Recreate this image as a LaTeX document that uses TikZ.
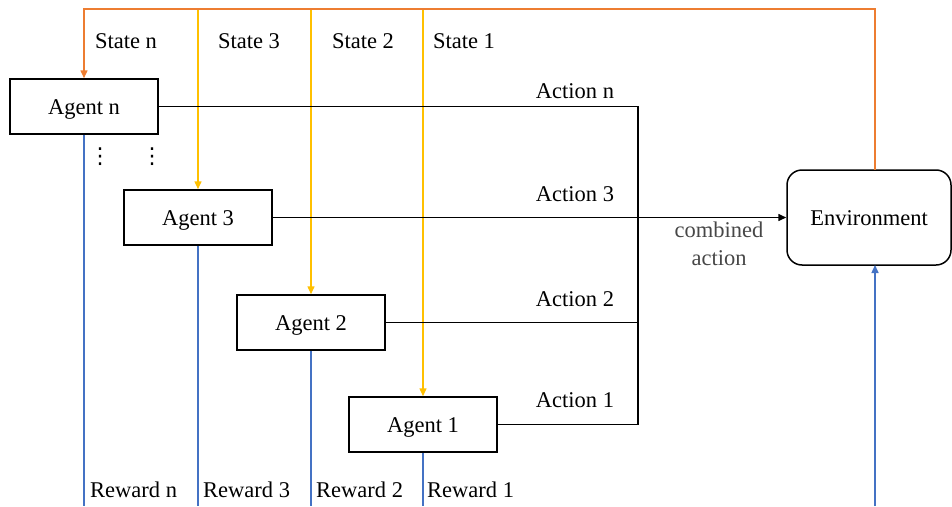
\documentclass[tikz,border=0pt]{standalone}
\usepackage{fontspec}
\setmainfont{Liberation Serif}
\newfontfamily\djv{DejaVu Sans}
\usetikzlibrary{arrows.meta}
\definecolor{cOrange}{HTML}{ED7D31}
\definecolor{cYellow}{HTML}{FFC000}
\definecolor{cBlue}{HTML}{4472C4}
\begin{document}
\begin{tikzpicture}[x=1pt,y=-1pt,
  every node/.style={font=\fontsize{22.5}{26}\selectfont, inner sep=0pt},
  agentbox/.style={draw, line width=1.5pt, minimum width=148pt, minimum height=55pt, text height=17pt, text depth=1pt},
  envbox/.style={draw, line width=1.5pt, rounded corners=15pt, minimum width=164pt, minimum height=95pt, text height=17pt, text depth=1pt},
  actline/.style={line width=1.5pt},
  stateline/.style={cYellow, line width=1.5pt},
  orangeline/.style={cOrange, line width=1.5pt},
  rewline/.style={cBlue, line width=1.5pt},
  tip/.style={-{Triangle[length=8pt,width=7pt]}},
  lbl/.style={anchor=base},
  dotsnode/.style={font=\djv\fontsize{22}{24}\selectfont}
]
\useasboundingbox (0,0) rectangle (952,506);
% nodes
\node[agentbox] (an) at (84,106.5) {Agent n};
\node[agentbox] (a3) at (198,217.5) {Agent 3};
\node[agentbox] (a2) at (311,322.5) {Agent 2};
\node[agentbox] (a1) at (423,424.5) {Agent 1};
\node[envbox] (env) at (869,217.5) {Environment};
% coordinates
\coordinate (top) at (875,9);
\coordinate (eo) at (875,170);
\coordinate (eb) at (875,265);
\coordinate (ebot) at (875,506);
\coordinate (s3) at (198,9);
\coordinate (s2) at (311,9);
\coordinate (s1) at (423,9);
\coordinate (rn) at (84,506);
\coordinate (r3) at (198,506);
\coordinate (r2) at (311,506);
\coordinate (r1) at (423,506);
\coordinate (jn) at (638,106.5);
\coordinate (j1) at (638,424.5);
% state lines
\draw[stateline,tip] (s3) -- (a3.north);
\draw[stateline,tip] (s2) -- (a2.north);
\draw[stateline,tip] (s1) -- (a1.north);
\draw[orangeline,tip] (eo) -- (top) -| (an.north);
% reward lines
\draw[rewline] (an.south) -- (rn);
\draw[rewline] (a3.south) -- (r3);
\draw[rewline] (a2.south) -- (r2);
\draw[rewline] (a1.south) -- (r1);
\draw[rewline,tip] (ebot) -- (eb);
% action lines
\draw[actline] (an.east) -- (jn) -- (j1) -- (a1.east);
\draw[actline] (a2.east) -- (a2.east -| jn);
\draw[actline,tip] (a3.east) -- (env.west);
% labels
\node[lbl] (ln) at (126,48) {State n};
\node[lbl] (l3) at (249,48) {State 3};
\node[lbl] (l2) at (363,48) {State 2};
\node[lbl] (l1) at (464,48) {State 1};
\node[lbl] (acn) at (575,98) {Action n};
\node[lbl] (ac3) at (575,201) {Action 3};
\node[lbl] (ac2) at (575,306) {Action 2};
\node[lbl] (ac1) at (575,407) {Action 1};
\node[align=center, text=black!72, font=\fontsize{22.5}{28}\selectfont] (comb) at (719,244) {combined\\action};
\node[lbl,anchor=base west] (wn) at (90,497) {Reward n};
\node[lbl,anchor=base west] (w3) at (203,497) {Reward 3};
\node[lbl,anchor=base west] (w2) at (316,497) {Reward 2};
\node[lbl,anchor=base west] (w1) at (427,497) {Reward 1};
% dots
\node[dotsnode] (d1) at (100,157) {⋮};
\node[dotsnode] (d2) at (152,157) {⋮};
\end{tikzpicture}
\end{document}
